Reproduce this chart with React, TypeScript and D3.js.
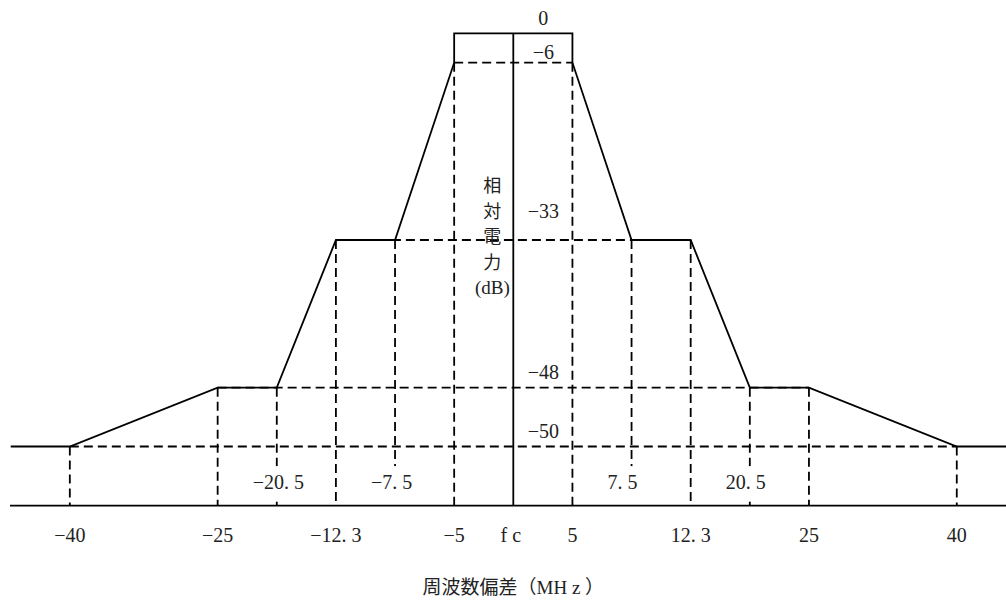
import React from 'react';
import * as d3 from 'd3';

// frequency offsets (MHz) where the mask breaks, and their slot on the schematic axis
const FREQS = [-40, -25, -20.5, -12.3, -7.5, -5, 0, 5, 7.5, 12.3, 20.5, 25, 40];
const FREQ_SLOTS = [-7.5, -5, -4, -3, -2, -1, 0, 1, 2, 3, 4, 5, 7.5];

// relative power levels (dB); the last one is the floor line of the drawing
const LEVELS = [0, -6, -33, -48, -50, -60];

// spectrum mask (solid outline)
const MASK_FREQ = [-46, -40, -25, -20.5, -12.3, -7.5, -5, -5, 5, 5, 7.5, 12.3, 20.5, 25, 40, 46];
const MASK_LEVEL = [-50, -50, -48, -48, -33, -33, -6, 0, 0, -6, -33, -33, -48, -48, -50, -50];

// dashed guides
const GUIDE_LEVELS = [-6, -33, -48, -50];
const GUIDE_HALF_WIDTH = [5, 12.3, 25, 40];
const DROP_FREQS = [-40, -25, -20.5, -12.3, -7.5, -5, 5, 7.5, 12.3, 20.5, 25, 40];
const DROP_LEVELS = [-50, -48, -48, -33, -33, -6, -6, -33, -33, -48, -48, -50];

// labels
const BOTTOM_FREQS = [-40, -25, -12.3, -5, 0, 5, 12.3, 25, 40];
const BOTTOM_TEXT = ['−40', '−25', '−12. 3', '−5', 'fc', '5', '12. 3', '25', '40'];
const INNER_FREQS = [-20.5, -7.5, 7.5, 20.5];
const INNER_TEXT = ['−20. 5', '−7. 5', '7. 5', '20. 5'];
const LEVEL_LABELS = [0, -6, -33, -48, -50];
const LEVEL_TEXT = ['0', '−6', '−33', '−48', '−50'];
const Y_TITLE = ['相', '対', '電', '力', '(dB)'];
const X_TITLE = '周波数偏差（MH z ）';

const W = 1006;
const H = 603;
const CX = 513.3;
const STEP = 59.13;

const FONT = '"Liberation Serif", "Noto Sans CJK JP", serif';

export default function App() {
  const x = d3.scaleLinear()
    .domain(FREQS)
    .range(FREQ_SLOTS.map(s => CX + s * STEP));

  const y = d3.scaleLinear()
    .domain(LEVELS)
    .range([33.3, 62.7, 240, 387.7, 446.5, 505.7]);

  const floor = LEVELS[LEVELS.length - 1];

  const mask = d3.line<number>()
    .x(i => x(MASK_FREQ[i]))
    .y(i => y(MASK_LEVEL[i]));

  const labelLift: Record<string, number> = { '0': 8, '-6': 4, '-33': 22, '-48': 9, '-50': 9 };
  const dash = '9 5';
  const stroke = '#000';
  const innerBase = (y(-50) + y(floor)) / 2 + 13;

  return (
    <div style={{ position: 'fixed', left: 0, top: 0, width: W, height: H, background: '#fff' }}>
      <svg width={W} height={H} style={{ display: 'block' }} fontFamily={FONT} fontSize={20}>
        {/* dashed horizontal guides */}
        {GUIDE_LEVELS.map((lv, i) => (
          <line key={'h' + i}
            x1={x(-GUIDE_HALF_WIDTH[i])} x2={x(GUIDE_HALF_WIDTH[i])}
            y1={y(lv)} y2={y(lv)}
            stroke={stroke} strokeWidth={1.8} strokeDasharray={dash} />
        ))}
        {/* dashed vertical drops */}
        {DROP_FREQS.map((f, i) => (
          <line key={'v' + i}
            x1={x(f)} x2={x(f)}
            y1={y(DROP_LEVELS[i])} y2={y(floor)}
            stroke={stroke} strokeWidth={1.8} strokeDasharray={dash} />
        ))}
        {/* mask outline */}
        <path d={mask(d3.range(MASK_FREQ.length)) || ''} fill="none" stroke={stroke} strokeWidth={1.8} />
        {/* floor line */}
        <line x1={10} x2={W} y1={y(floor)} y2={y(floor)} stroke={stroke} strokeWidth={1.8} />
        {/* centre line fc */}
        <line x1={x(0)} x2={x(0)} y1={y(0)} y2={y(floor)} stroke={stroke} strokeWidth={1.8} />

        {/* level labels */}
        {LEVEL_LABELS.map((lv, i) => (
          <text key={'l' + i} x={x(0) + 30} y={y(lv) - labelLift[String(lv)]} textAnchor="middle" fill="#222">
            {LEVEL_TEXT[i]}
          </text>
        ))}

        {/* inner frequency labels, masking the dashed drop behind them */}
        {INNER_FREQS.map((f, i) => (
          <g key={'in' + i}>
            <rect x={x(f) - 8} y={innerBase - 23} width={16} height={y(floor) - 4 - (innerBase - 23)} fill="#fff" />
            <text x={x(f) - 24} y={innerBase} fill="#222">
              {INNER_TEXT[i]}
            </text>
          </g>
        ))}

        {/* bottom frequency labels */}
        {BOTTOM_FREQS.map((f, i) => (
          <text key={'b' + i} x={x(f)} y={y(floor) + 36} textAnchor="middle" fill="#222"
            letterSpacing={BOTTOM_TEXT[i] === 'fc' ? 5 : 0}>
            {BOTTOM_TEXT[i]}
          </text>
        ))}

        {/* y title, stacked vertically */}
        {Y_TITLE.map((t, i) => (
          <text key={'yt' + i} x={x(0) - 21} y={y(-33) - 48 + i * 25.5} textAnchor="middle" fill="#222"
            fontSize={i < 4 ? 18 : 19}>
            {t}
          </text>
        ))}

        {/* x title */}
        <text x={x(0)} y={594} textAnchor="middle" fill="#222" fontSize={19}>{X_TITLE}</text>
      </svg>
    </div>
  );
}
